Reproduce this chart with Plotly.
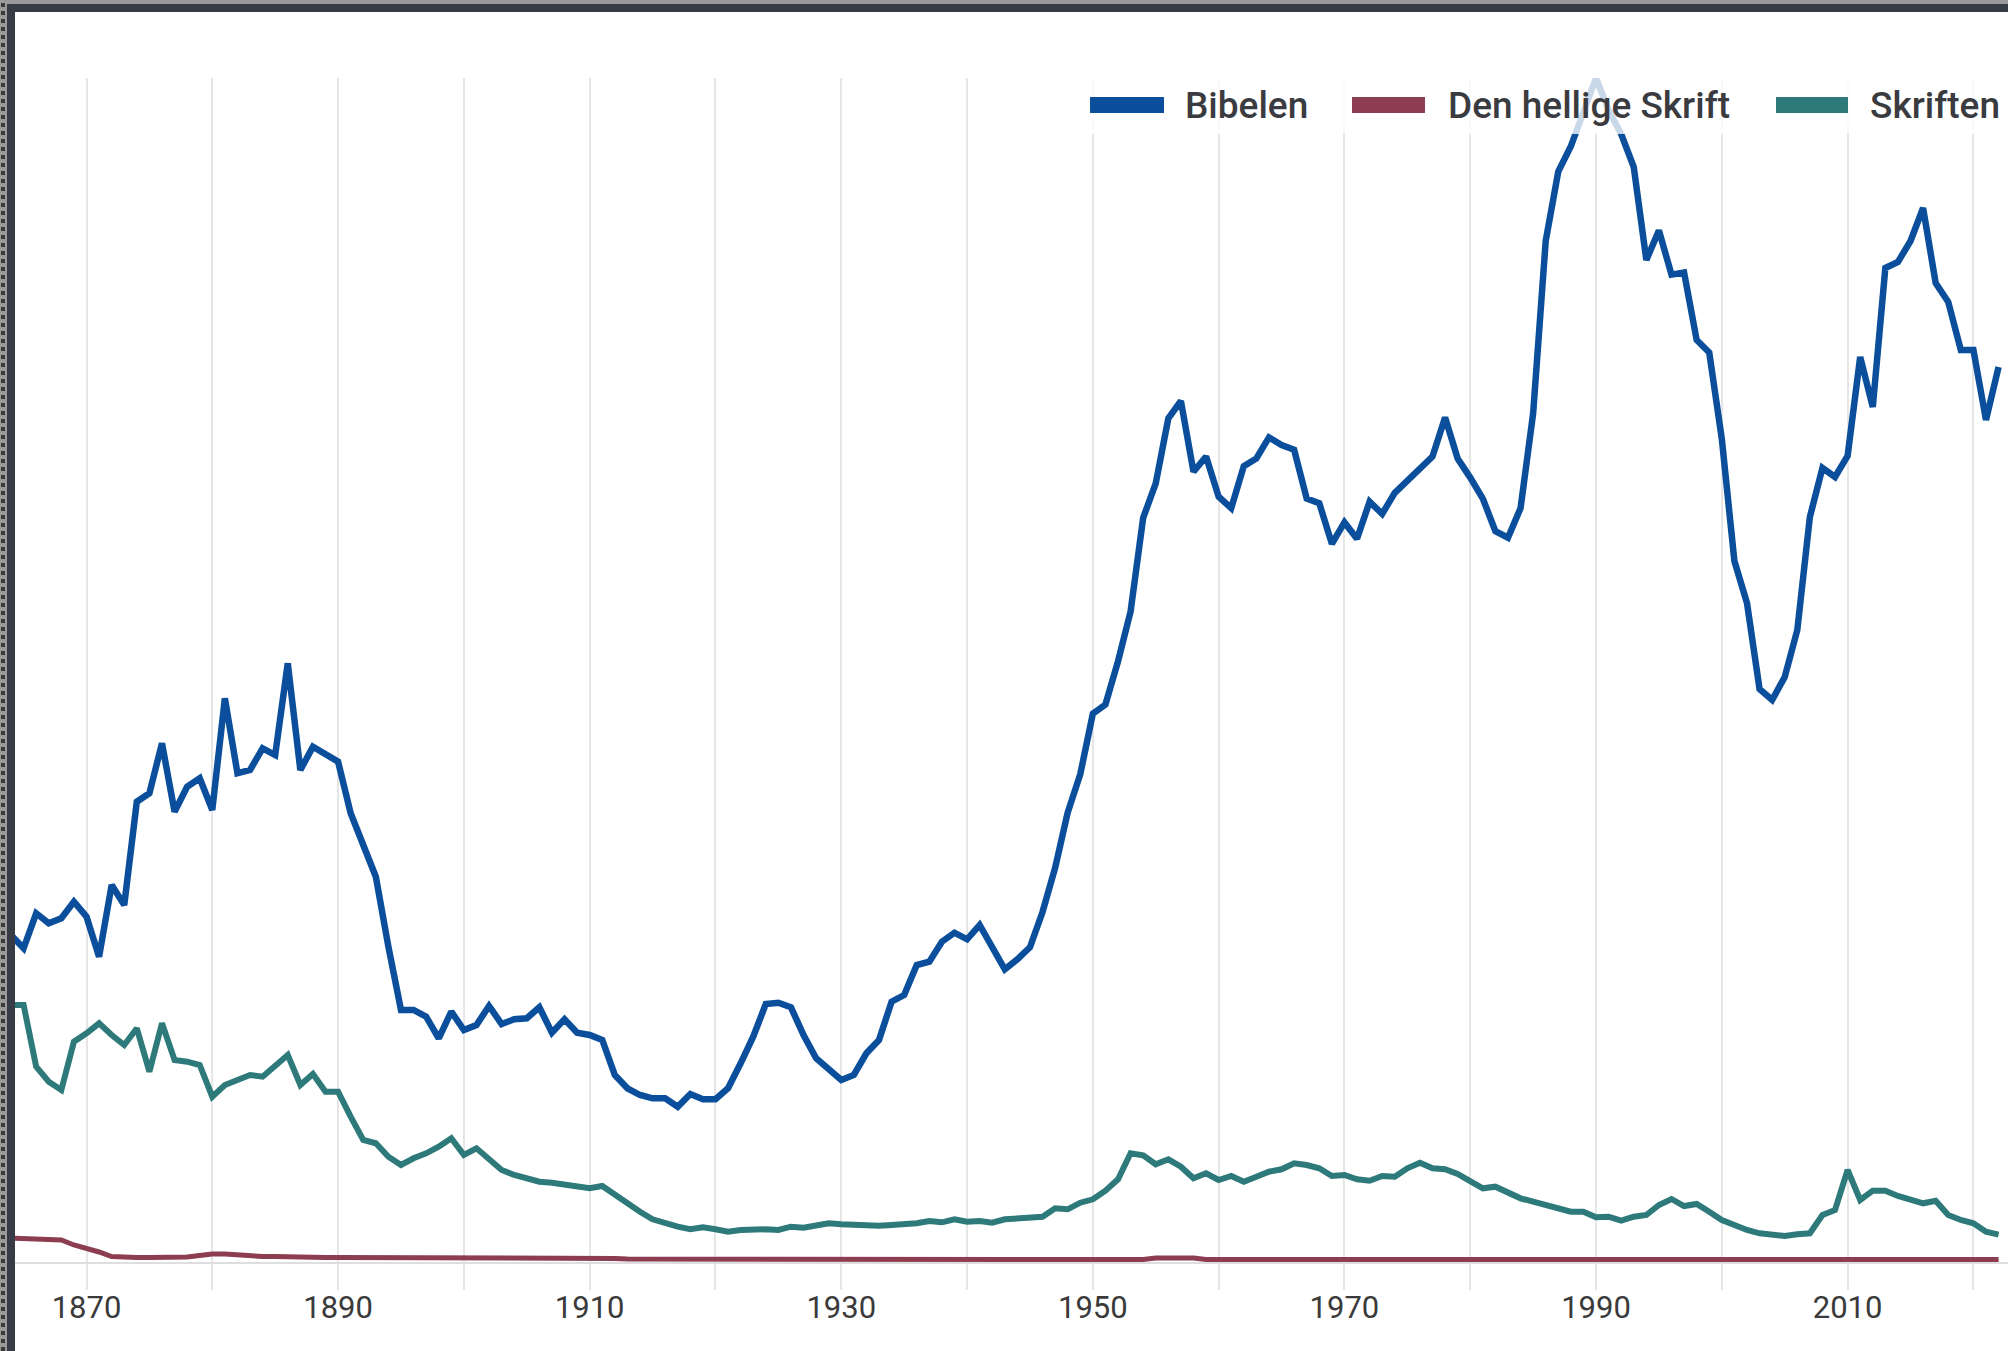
import plotly.graph_objects as go

years = list(range(1864, 2023))

bibelen = [
    327, 313.7, 348.7, 338.7, 343.7, 360.3, 345.3, 305.3, 377, 357,
    460.3, 468.7, 518.7, 450.3, 475.3, 483.7, 452, 563.7, 488.7, 492,
    513.7, 507, 598.7, 492, 515.3, 507, 500.3, 448.7, 415.3, 385.3,
    315.3, 252, 252, 245.3, 223.7, 250.3, 232, 237, 256, 238,
    242.7, 243.7, 254.7, 229.3, 242.7, 229.3, 227, 222, 187, 173.7,
    167, 163.7, 163.7, 155.3, 168, 162.7, 162.7, 173.7, 198.7, 225.3,
    258, 259.3, 254.7, 227, 203.7, 193.7, 182, 187, 208.7, 222,
    260.3, 267, 297, 300.3, 320.3, 329.3, 322.7, 337, 315.3, 292.7,
    302.7, 314.7, 350, 394, 449.5, 487.8, 548.3, 557.5, 600.7, 650.5,
    744.2, 778.7, 843.7, 861, 790.2, 805.5, 765.3, 753.8, 795.9, 803.5,
    824.6, 816.9, 812.3, 763.4, 758.8, 718.2, 739.6, 723.2, 760.3, 748.1,
    769.1, 781.7, 794.7, 805.5, 844.5, 803.5, 784.4, 763.4, 730.8, 724.3,
    753.8, 848.5, 1021, 1090.5, 1115.7, 1152, 1184, 1152, 1128, 1095,
    1002, 1031.5, 987.4, 989.5, 922, 909.5, 823, 701, 659, 573,
    562, 585, 632, 745, 794, 785, 806, 905, 855, 994,
    1000, 1021, 1054, 979, 960, 912, 912, 842, 895,
]

den_hellige_skrift = [
    24, 23.5, 22.5, 22, 22, 17, 14, 10, 5.5, 4.5,
    4.5, 4.5, 4.5, 4.5, 5, 6.5, 8, 8, 7, 6,
    5.5, 5.5, 5, 5, 4.5, 4.5, 4.5, 4.5, 4.5, 4,
    4, 4, 4.5, 4.5, 4, 4, 4, 4, 4, 4.5,
    4.5, 4, 4.5, 4.5, 4.5, 4.5, 4.5, 4, 3.5, 3,
    3, 3, 3, 2.5, 2.5, 2.5, 2.5, 2.5, 2.5, 2.5,
    2.5, 2.5, 2.5, 2.5, 2.5, 2.5, 2.5, 2.5, 2.5, 3,
    3, 2.5, 2.5, 2.5, 2.5, 2.5, 2.5, 2.5, 2.5, 2.5,
    2.5, 2.5, 2.5, 2.5, 2.5, 2.5, 2.5, 2.5, 2.5, 2.5,
    2.5, 4, 4, 4, 4, 2.5, 2.5, 2.5, 2.5, 2.5,
    2.5, 2.5, 3.5, 3.5, 3.5, 3.5, 2.5, 2.5, 3.5, 3.5,
    3.5, 3.5, 3.5, 2.5, 2.5, 2.5, 2.5, 2.5, 2.5, 2.5,
    2.5, 2.5, 2.5, 2.5, 2.5, 2.5, 2.5, 2.5, 2.5, 2.5,
    2.5, 2.5, 2.5, 2.5, 2.5, 2.5, 2.5, 2.5, 2.5, 2.5,
    2.5, 2.5, 2.5, 2.5, 2.5, 2.5, 2.5, 2.5, 2.5, 2.5,
    2.5, 3, 3, 3, 2.5, 2.5, 2.5, 2.5, 2.5,
]

skriften = [
    257, 257, 195.3, 180.3, 172, 220.3, 228.7, 238.7, 227, 217,
    233.7, 190.3, 238.7, 202, 200.3, 197, 165.3, 177, 182, 187,
    185.3, 195.3, 207, 177, 188, 170.3, 170.3, 145.3, 122, 118.7,
    105.3, 97, 103.7, 108.7, 115.3, 123.7, 107, 113.7, 102, 92,
    87, 83.7, 80.3, 79.3, 77, 74.7, 73.7, 76, 67, 58.7,
    50.3, 42.7, 38.7, 35.3, 32.7, 34.7, 32.7, 30.3, 32, 32.7,
    32.7, 32, 35.3, 34.3, 37, 38.7, 37.7, 37, 37, 36.3,
    37, 37.7, 38.7, 41, 39.7, 42.7, 40.3, 41, 39.3, 42.7,
    43.3, 44, 45.3, 53.7, 52.7, 59.3, 62.7, 71.3, 82.7, 108.7,
    106.7, 97.7, 102.7, 95.3, 83.7, 88.7, 82, 86, 80.3, 85.3,
    90.3, 92.7, 98.7, 97, 93.7, 86, 87, 82.7, 81.3, 86,
    85.3, 93.7, 99.3, 93.7, 92.7, 88, 80.3, 73.7, 75.3, 68.7,
    63.7, 60.3, 57, 53.7, 50.3, 50.3, 44.7, 45.3, 41.3, 45.3,
    47, 57, 63, 56, 58, 50.3, 42, 37, 32, 28.7,
    27, 26, 27.7, 28.7, 47, 52, 92, 62, 71.3, 71.3,
    66, 62.7, 58.7, 61.3, 47, 42, 38.7, 30.3, 27.3,
]

series_names = ["Bibelen", "Den hellige Skrift", "Skriften"]
series_values = [bibelen, den_hellige_skrift, skriften]
series_colors = ["#0b4f9c", "#8c3d4f", "#2e7a7b"]
series_widths = [6.5, 5, 6]

tick_years = list(range(1870, 2021, 10))
tick_labels = [str(y) if (y - 1870) % 20 == 0 else "" for y in tick_years]

W, H = 2008, 1351
ML, MR, MT, MB = 15, 0, 78, 89
PW, PH = W - ML - MR, H - MT - MB


def px(p):
    return (p - ML) / PW


def py(p):
    return (H - MB - p) / PH


fig = go.Figure()
for name, vals, col, lw in zip(series_names, series_values, series_colors, series_widths):
    fig.add_trace(go.Scatter(
        x=years, y=vals, mode="lines", name=name,
        line=dict(color=col, width=lw), showlegend=False,
    ))

shapes = []
# legend backdrop (semi-transparent)
shapes.append(dict(type="rect", xref="paper", yref="paper", layer="above",
                   x0=px(1075), x1=px(W), y0=py(134), y1=py(60),
                   fillcolor="rgba(255,255,255,0.78)", line=dict(width=0)))
# legend swatches
sw = [(1090, 1164), (1352, 1425), (1776, 1848)]
for (a, b), col in zip(sw, series_colors):
    shapes.append(dict(type="rect", xref="paper", yref="paper", layer="above",
                       x0=px(a), x1=px(b), y0=py(113), y1=py(97),
                       fillcolor=col, line=dict(width=0)))
# frame: dotted strip + dark border on left and top
shapes.append(dict(type="rect", xref="paper", yref="paper", layer="above",
                   x0=px(0), x1=px(7), y0=py(H), y1=py(0),
                   fillcolor="#9a9a9a", line=dict(width=0)))
shapes.append(dict(type="rect", xref="paper", yref="paper", layer="above",
                   x0=px(0), x1=px(W), y0=py(4), y1=py(0),
                   fillcolor="#9a9a9a", line=dict(width=0)))
shapes.append(dict(type="line", xref="paper", yref="paper", layer="above",
                   x0=px(3), x1=px(3), y0=py(H), y1=py(0),
                   line=dict(color="#3a3a3a", width=4, dash="dot")))
shapes.append(dict(type="rect", xref="paper", yref="paper", layer="above",
                   x0=px(7), x1=px(15), y0=py(H), y1=py(4),
                   fillcolor="#363b45", line=dict(width=0)))
shapes.append(dict(type="rect", xref="paper", yref="paper", layer="above",
                   x0=px(7), x1=px(W), y0=py(12), y1=py(4),
                   fillcolor="#363b45", line=dict(width=0)))

annotations = []
text_x = [1183, 1446, 1868]
for name, tx in zip(series_names, text_x):
    annotations.append(dict(
        text=name, xref="paper", yref="paper", x=px(tx), y=py(105),
        xanchor="left", yanchor="middle", showarrow=False,
        font=dict(family="Roboto", size=37, color="#3a3b40", weight=500),
    ))

fig.update_layout(
    width=W, height=H,
    margin=dict(l=ML, r=MR, t=MT, b=MB, pad=0),
    paper_bgcolor="white", plot_bgcolor="white",
    shapes=shapes, annotations=annotations,
    xaxis=dict(
        range=[1864.316, 2022.75],
        tickmode="array", tickvals=tick_years, ticktext=tick_labels,
        showgrid=True, gridcolor="#e6e6e6", gridwidth=2,
        ticks="outside", ticklen=26, tickwidth=2, tickcolor="#e6e6e6",
        ticklabelstandoff=-9,
        showline=True, linecolor="#dedede", linewidth=2,
        zeroline=False,
        tickfont=dict(family="Roboto", size=31, color="#3a3a3a"),
    ),
    yaxis=dict(
        range=[0, 1184], showgrid=False, showticklabels=False,
        zeroline=False, showline=False, ticks="",
    ),
)

fig.write_html(
    "out.html",
    config={"displayModeBar": False},
    post_script="document.body.style.margin='0px';document.body.style.padding='0px';",
)
